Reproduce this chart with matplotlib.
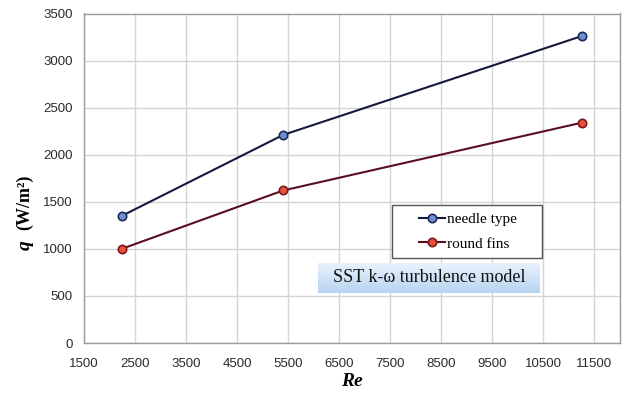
import numpy as np
import matplotlib
matplotlib.use("Agg")
import matplotlib.pyplot as plt
from matplotlib.patches import Rectangle

# Heat flux q (W/m^2) versus Reynolds number for the two fin shapes
re_needle = [2240, 5400, 11250]
q_needle = [1350, 2210, 3260]
re_round = [2240, 5400, 11250]
q_round = [1000, 1620, 2340]

x_ticks = list(range(1500, 12000, 1000))
y_ticks = list(range(0, 3501, 500))
series_labels = ["needle type", "round fins"]
model_label = "SST k-\u03c9 turbulence model"

W, H = 622, 399
fig = plt.figure(figsize=(W / 100, H / 100), dpi=100)
fig.patch.set_facecolor("white")


def fbox(x0, y0, x1, y1):
    """Figure-fraction rectangle from pixel corners (top-left origin)."""
    return [x0 / W, 1 - y1 / H, (x1 - x0) / W, (y1 - y0) / H]


ax = fig.add_axes(fbox(84, 13.5, 620, 343))
ax.set_xlim(1500, 12000)
ax.set_ylim(0, 3500)
ax.set_xticks(x_ticks)
ax.set_yticks(y_ticks)
ax.grid(True, color="#d4d4d4", linewidth=1.0)
ax.set_axisbelow(True)
for side, sp in ax.spines.items():
    sp.set_color("#9a9a9a")
    sp.set_linewidth(1.0)
ax.tick_params(length=0, labelsize=9.5, colors="#2a2a2a")
ax.tick_params(axis="y", pad=8)
ax.tick_params(axis="x", pad=10.5)
for lab in ax.get_xticklabels() + ax.get_yticklabels():
    lab.set_family("Liberation Sans")

ax.plot(re_needle, q_needle, color="#151a3a", linewidth=1.5, marker="o",
        markersize=6, markerfacecolor="#6f8fd2", markeredgecolor="#1c2a5a",
        markeredgewidth=1.2, label=series_labels[0], zorder=3)
ax.plot(re_round, q_round, color="#5a0f22", linewidth=1.5, marker="o",
        markersize=6, markerfacecolor="#ea4f3c", markeredgecolor="#7a1a1a",
        markeredgewidth=1.2, label=series_labels[1], zorder=3)

# Axis titles
fig.text(25 / W, 1 - 245 / H, "q", rotation=90, ha="center", va="center",
         fontsize=14, family="Liberation Serif", fontweight="bold",
         style="italic")
fig.text(25 / W, 1 - 202 / H, "(W/m\u00b2)", rotation=90, ha="center",
         va="center", fontsize=13, family="Liberation Serif",
         fontweight="bold")
fig.text(352 / W, 1 - 382 / H, "Re", ha="center", va="center", fontsize=14,
         family="Liberation Serif", fontweight="bold", style="italic")

# Legend box
ax.add_patch(Rectangle((392 / W, 1 - 258 / H), 150 / W, 53 / H,
                       transform=fig.transFigure, facecolor="white",
                       edgecolor="#555555", linewidth=1.0, zorder=5,
                       clip_on=False))
leg = ax.legend(loc="center left", bbox_to_anchor=(419 / W, 1 - 231.5 / H),
                bbox_transform=fig.transFigure, frameon=False, borderpad=0,
                borderaxespad=0, handlelength=1.7, handletextpad=0.15,
                labelspacing=0.7, prop={"family": "Liberation Serif", "size": 11})
leg.set_zorder(6)

# Turbulence model label with a soft blue gradient fill
bax = fig.add_axes(fbox(318, 263, 540, 293))
grad = np.linspace(0, 1, 64).reshape(-1, 1)
top = np.array([0.91, 0.95, 0.99])
bot = np.array([0.72, 0.83, 0.94])
img = top[None, None, :] * (1 - grad[:, :, None]) + bot[None, None, :] * grad[:, :, None]
bax.imshow(img, aspect="auto", extent=[0, 1, 0, 1])
bax.set_xlim(0, 1)
bax.set_ylim(0, 1)
bax.axis("off")
bax.text(0.5, 0.5, model_label, ha="center", va="center", fontsize=13,
         family="Liberation Serif", color="#111111", transform=bax.transAxes)

fig.savefig("out.png", dpi=100)
